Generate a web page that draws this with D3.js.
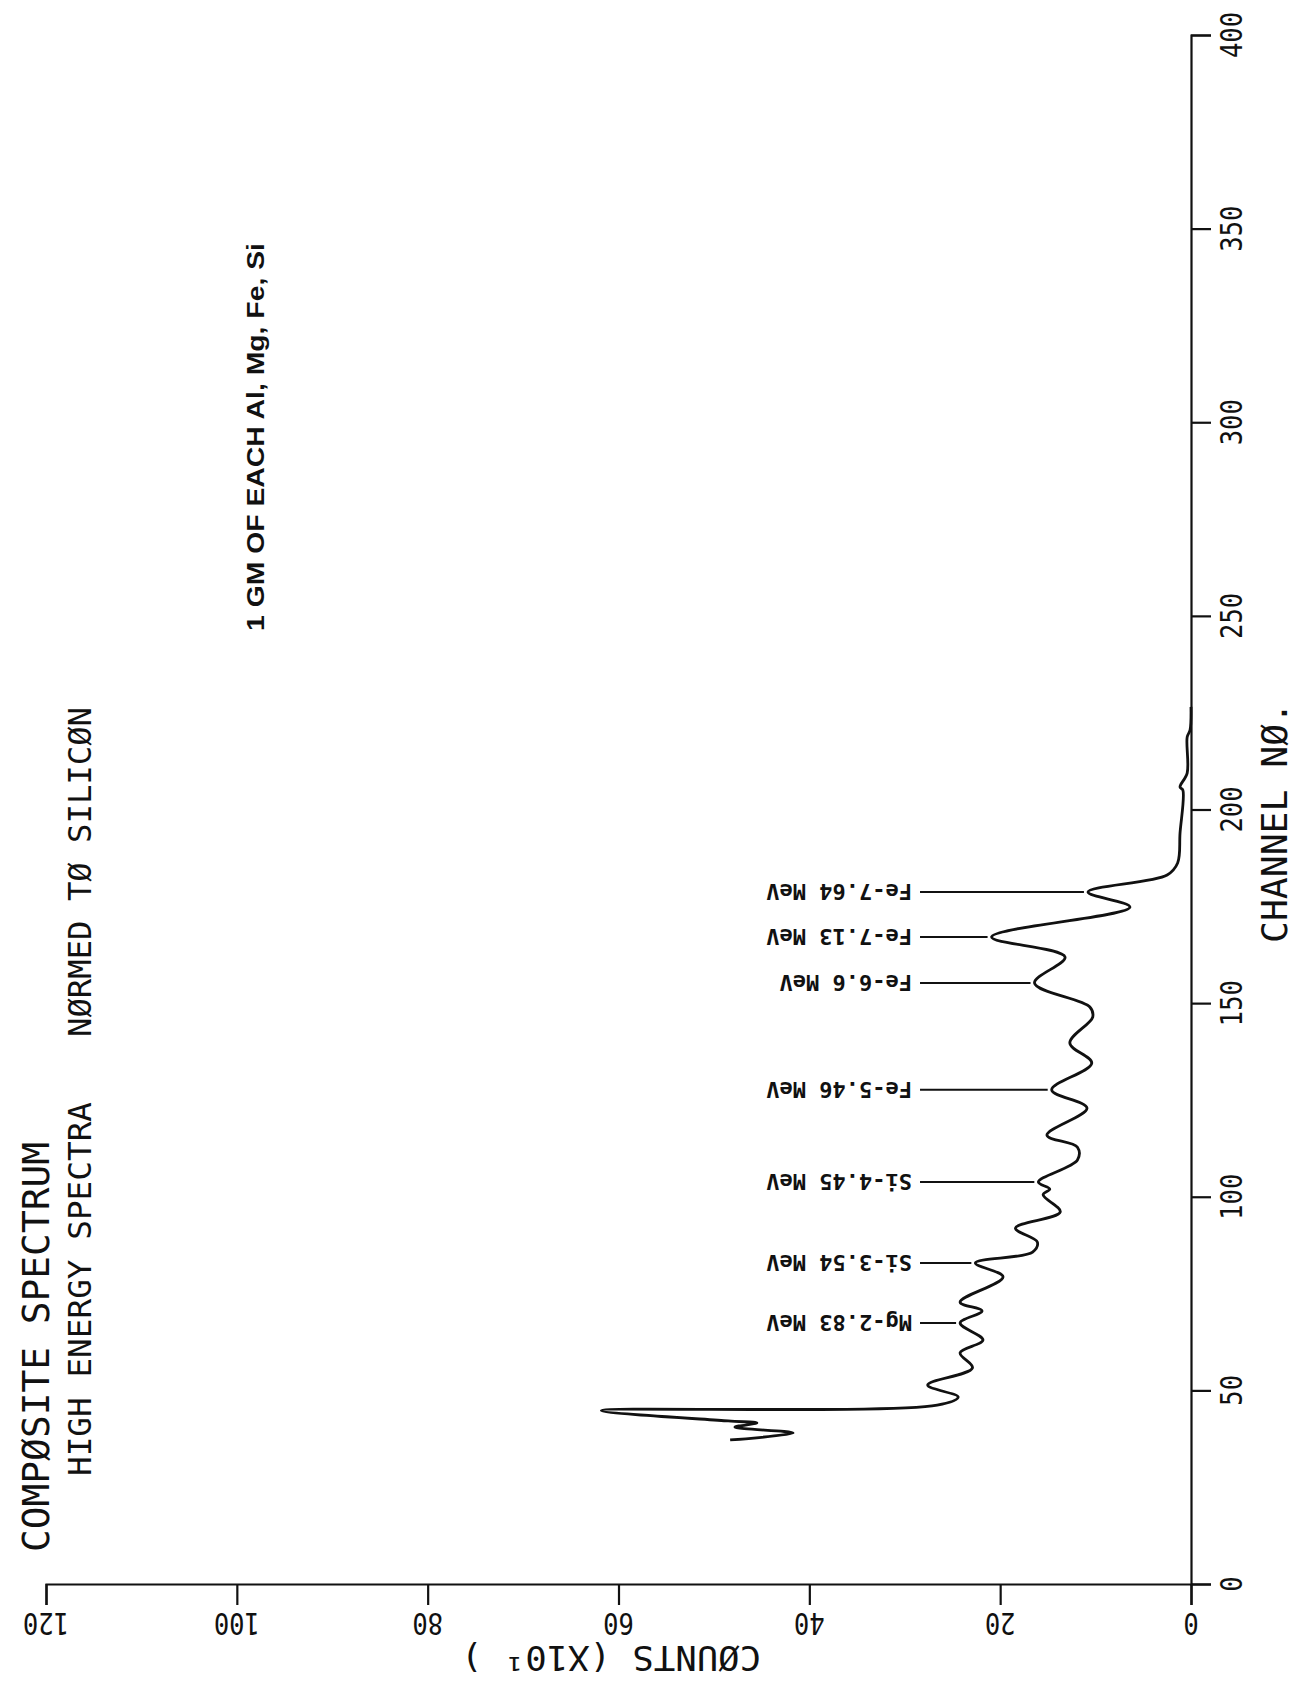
<!DOCTYPE html>
<html>
<meta charset="utf-8">
<script src="https://d3js.org/d3.v7.min.js"></script>
<style>
  body { margin: 0; background: #fff; }
  svg { display: block; }
</style>
<body>
<div id="spectrum_div"></div>

<script>

// tick labels
var channelTicks = [0, 50, 100, 150, 200, 250, 300, 350, 400];
var countTicks = [0, 20, 40, 60, 80, 100, 120];

// spectrum trace (channel no., counts x10)
var channels = [37.2, 39.0, 40.5, 41.6, 42.1, 44.8, 46.2, 48.3, 51.4, 55.8,
  59.7, 63.0, 67.4, 70.5, 72.8, 79.3, 82.9, 85.7, 88.3, 91.9,
  96.1, 100.5, 102.0, 103.8, 109.5, 112.8, 115.9, 122.9, 127.6, 134.5,
  139.7, 146.4, 149.0, 155.2, 161.9, 167.1, 174.8, 178.7, 183.1, 186.2,
  193.9, 205.0, 205.8, 209.4, 218.7, 220.5, 226.5];
var counts = [48.3, 41.7, 47.8, 45.5, 48.5, 61.8, 26.6, 24.4, 27.6, 22.9,
  24.2, 21.8, 24.2, 21.9, 24.2, 19.7, 22.6, 16.6, 16.1, 18.4,
  13.7, 15.5, 14.8, 16.0, 11.9, 11.9, 15.1, 10.9, 14.6, 10.4,
  12.7, 10.3, 10.6, 16.4, 13.2, 20.9, 6.4, 10.8, 2.5, 1.4,
  1.15, 0.85, 1.15, 0.4, 0.4, 0.1, 0];

// labelled lines
var peakNames = ["Mg-2.83 MeV", "Si-3.54 MeV", "Si-4.45 MeV", "Fe-5.46 MeV",
  "Fe-6.6 MeV", "Fe-7.13 MeV", "Fe-7.64 MeV"];
var peakChannels = [67.4, 82.9, 103.8, 127.6, 155.2, 167.1, 178.7];
var peakCounts = [24.2, 22.6, 16.0, 14.6, 16.4, 20.9, 10.8];
var labelCounts = 28.4;   // where the leader lines start

var width = 1298, height = 1681;
var ink = "#111";
var plotter = "'DejaVu Sans Mono', 'Liberation Mono', monospace";

var svg = d3.select("#spectrum_div")
  .append("svg")
  .attr("width", width)
  .attr("height", height);

// the plot is turned on its side: channel runs up the right edge,
// counts run leftwards along the bottom
var y = d3.scaleLinear().domain([0, 400]).range([1584, 35]);
var x = d3.scaleLinear().domain([0, 120]).range([1191, 46]);

svg.append("g")
  .attr("transform", "translate(" + x(0) + ",0)")
  .call(d3.axisRight(y).tickValues(channelTicks).tickSize(20).tickFormat(""));

svg.append("g")
  .attr("transform", "translate(0," + y(0) + ")")
  .call(d3.axisBottom(x).tickValues(countTicks).tickSize(21).tickFormat(""));

svg.selectAll(".domain, .tick line")
  .attr("stroke", ink)
  .attr("stroke-width", 2.2);

function rotText(g, tx, ty, angle, str, size, opts) {
  opts = opts || {};
  var sx = opts.squeeze || 1;
  var t = g.append("text")
    .attr("transform", "translate(" + tx + "," + ty + ") rotate(" + angle + ") scale(" + sx + ",1)")
    .attr("font-family", opts.family || plotter)
    .attr("font-size", size)
    .attr("font-weight", opts.weight || "normal")
    .attr("text-anchor", opts.anchor || "start")
    .attr("fill", ink)
    .text(str);
  if (opts.len) t.attr("textLength", opts.len).attr("lengthAdjust", "spacingAndGlyphs");
  return t;
}

// channel tick labels, reading upwards
channelTicks.forEach(function(d) {
  rotText(svg, 1242, y(d), -90, d, 30, {anchor: "middle", squeeze: 0.85});
});

// count tick labels, upside down
countTicks.forEach(function(d) {
  rotText(svg, x(d), 1613, 180, d, 30, {anchor: "middle", squeeze: 0.85});
});

// spectrum
var line = d3.line()
  .x(function(d, i) { return x(counts[i]); })
  .y(function(d) { return y(d); })
  .curve(d3.curveCatmullRom.alpha(0.5));

svg.append("path")
  .datum(channels)
  .attr("d", line)
  .attr("fill", "none")
  .attr("stroke", ink)
  .attr("stroke-width", 2.8)
  .attr("stroke-linejoin", "round");

// peak markers
var pk = svg.append("g");
peakNames.forEach(function(name, i) {
  var py = y(peakChannels[i]);
  pk.append("line")
    .attr("x1", x(labelCounts))
    .attr("x2", x(peakCounts[i]) - 4)
    .attr("y1", py)
    .attr("y2", py)
    .attr("stroke", ink)
    .attr("stroke-width", 2);
  rotText(pk, x(labelCounts) - 8, py - 8, 180, name, 22, {weight: "bold"});
});

// titles
rotText(svg, 49, 1552, -90, "COMPØSITE SPECTRUM", 38, {len: 410});
rotText(svg, 91, 1476, -90, "HIGH ENERGY SPECTRA", 32, {len: 374});
rotText(svg, 91, 1037, -90, "NØRMED TØ SILICØN", 32, {len: 330});
rotText(svg, 264, 631, -90, "1 GM OF EACH Al, Mg, Fe, Si", 23,
  {family: "'Liberation Sans Narrow', 'Liberation Sans', Arial, sans-serif", weight: "bold", len: 388});
rotText(svg, 1287, 943, -90, "CHANNEL NØ.", 36, {len: 241});
rotText(svg, 761, 1646, 180, "CØUNTS (X10¹ )", 34, {len: 300});

</script>
</body>
</html>
